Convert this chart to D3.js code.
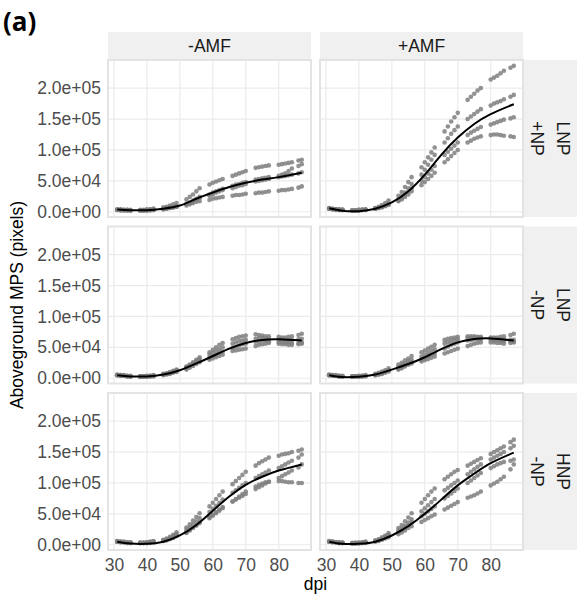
<!DOCTYPE html>
<html>
<head>
<meta charset="utf-8">
<script src="https://cdn.jsdelivr.net/npm/d3@7"></script>
<style>
  body { margin: 0; background: #fff; }
  svg { display: block; font-family: "Liberation Sans", Arial, sans-serif; }
</style>
</head>
<body>
<div id="chart"></div>
<script>
// --- Data (values in thousands of pixels) ---
const days = [31,32,33,34,35, 38,39,40,41,42, 45,46,47,48,49, 52,53,54,55,56,
              59,60,61,62,63, 66,67,68,69,70, 73,74,75,76,77, 80,81,82,83,84, 86,87];

const colLabels = ["-AMF", "+AMF"];
const rowLabels = [["LNP", "+NP"], ["LNP", "-NP"], ["HNP", "-NP"]];
const xTicks = [30, 40, 50, 60, 70, 80];
const yTicks = [0, 50000, 100000, 150000, 200000];

// one array per plant (4 replicates per panel)
const lnpPlusNpNoAmf = [
  [4,4,3,3,3, 3,3,4,4,5, 7,8,10,12,14, 20,24,28,33,38, 44,47,49,51,53, 58,60,62,64,66, 71,72,73,74,75, 76,77,78,79,80, 83,84],
  [3,3,3,3,2, 2,2,3,3,3, 5,6,7,8,9, 13,15,18,21,24, 28,31,33,35,37, 42,44,45,47,48, 52,53,54,55,56, 58,60,62,66,70, 74,77],
  [3,3,2,2,2, 2,2,2,3,3, 4,5,6,7,8, 12,14,16,19,22, 26,28,31,33,35, 38,40,42,43,45, 49,50,51,52,53, 56,57,58,59,60, 62,64],
  [3,2,2,2,2, 2,2,2,2,3, 4,5,6,7,8, 10,12,14,16,17, 19,21,22,23,24, 26,27,27,28,29, 30,31,31,32,33, 34,35,35,36,37, 39,41]
];
const lnpPlusNpAmf = [
  [6,5,4,4,3, 2,2,3,3,4, 6,8,11,14,18, 26,32,40,48,56, 72,80,88,96,104, 130,138,146,153,160, 181,186,191,196,200, 214,217,220,224,228, 233,236],
  [5,4,4,3,3, 2,2,2,3,3, 5,6,8,10,13, 20,25,31,38,45, 60,68,76,84,92, 112,119,126,132,138, 150,154,158,162,166, 172,175,177,179,182, 186,189],
  [5,4,3,3,3, 2,2,2,3,3, 5,6,8,10,12, 18,22,27,32,38, 50,56,62,68,74, 92,97,102,107,112, 124,128,131,134,137, 141,143,145,147,149, 151,153],
  [5,4,4,3,3, 2,2,3,3,3, 5,6,7,9,11, 17,20,24,28,33, 43,48,53,58,63, 80,85,90,95,100, 112,115,118,120,122, 124,125,125,124,123, 122,121]
];
const lnpMinusNpNoAmf = [
  [6,5,5,4,4, 3,3,4,4,5, 7,8,10,12,14, 19,22,26,30,34, 42,46,50,54,57, 63,65,67,68,69, 71,70,69,68,68, 67,66,66,67,68, 70,72],
  [5,5,4,4,3, 3,3,3,4,4, 6,7,9,11,13, 18,21,24,28,31, 38,41,44,47,50, 56,58,60,61,62, 64,65,65,64,64, 63,63,62,62,62, 63,64],
  [5,4,4,3,3, 3,3,3,3,4, 6,7,8,10,12, 16,19,22,25,28, 33,36,38,41,43, 49,51,53,55,56, 59,60,61,61,60, 59,59,58,58,57, 57,58],
  [5,4,4,3,3, 2,3,3,3,3, 5,6,7,9,10, 14,17,20,23,26, 30,32,34,36,38, 44,45,46,47,48, 52,54,55,56,57, 56,55,55,54,54, 55,56]
];
const lnpMinusNpAmf = [
  [6,5,5,4,4, 3,3,4,4,5, 7,9,11,13,16, 22,25,29,32,36, 42,45,48,51,54, 62,64,65,66,67, 68,68,68,67,67, 66,66,66,67,68, 70,72],
  [5,5,4,4,3, 3,3,3,4,4, 6,7,9,11,13, 18,21,24,27,30, 35,38,41,44,47, 56,58,60,62,63, 65,66,66,66,65, 65,64,64,63,63, 62,62],
  [5,4,4,3,3, 3,3,3,3,4, 5,6,8,10,12, 15,18,21,24,26, 30,32,35,38,40, 48,51,54,56,58, 61,62,63,63,63, 62,61,61,60,60, 60,59],
  [5,4,4,3,3, 2,3,3,3,3, 5,6,7,9,11, 14,16,19,22,24, 27,29,31,33,35, 40,42,44,46,48, 52,54,56,57,58, 58,58,57,57,56, 57,58]
];
const hnpMinusNpNoAmf = [
  [6,5,5,4,4, 3,3,4,5,6, 8,10,13,16,20, 28,33,39,45,51, 62,68,74,80,86, 98,103,108,113,118, 128,132,135,138,141, 144,146,147,148,150, 152,154],
  [5,5,4,4,3, 3,3,3,4,5, 7,9,11,14,17, 24,28,33,38,43, 53,58,63,68,73, 84,88,92,96,100, 108,111,114,117,120, 124,127,130,133,136, 141,146],
  [5,4,4,3,3, 3,3,3,4,4, 6,8,10,12,15, 20,24,28,32,37, 45,49,53,57,61, 70,73,76,79,82, 90,93,96,99,102, 108,111,114,117,120, 125,130],
  [5,4,4,3,3, 3,3,3,3,4, 6,7,9,11,14, 19,23,27,31,35, 43,47,51,55,59, 70,74,78,82,86, 94,97,99,101,102, 103,103,102,101,101, 100,100]
];
const hnpMinusNpAmf = [
  [6,5,4,4,3, 3,3,3,4,5, 7,9,12,15,19, 27,32,38,44,51, 68,74,80,86,91, 106,110,114,118,121, 128,131,134,137,140, 147,150,153,156,159, 166,170],
  [5,5,4,3,3, 2,3,3,3,4, 6,8,10,13,16, 23,27,31,36,41, 54,59,64,69,74, 88,92,96,100,104, 114,118,122,126,130, 138,141,144,147,150, 156,160],
  [5,4,4,3,3, 2,2,3,3,4, 6,7,9,12,15, 21,24,28,32,36, 46,50,54,58,62, 75,79,83,87,91, 100,104,108,112,116, 124,127,130,132,134, 136,138],
  [5,4,4,3,3, 2,2,2,3,3, 5,6,8,10,12, 17,20,23,27,30, 37,40,43,46,49, 57,60,63,66,69, 76,78,80,83,86, 96,99,102,106,110, 122,130]
];

// smoothed fit
const fitDays = [31, 35, 40, 45, 50, 55, 60, 65, 70, 75, 80, 87];
const fitLnpPlusNpNoAmf  = [3.5, 2.5, 2.5, 5, 10, 21, 31, 40, 47, 52, 56, 63];
const fitLnpPlusNpAmf    = [5.5, 1.5, 1, 5, 15, 33, 60, 92, 120, 142, 158, 174];
const fitLnpMinusNpNoAmf = [5, 3, 3, 6, 13, 24, 36, 48, 57, 62, 63, 61];
const fitLnpMinusNpAmf   = [5, 2, 2.5, 6, 14, 23, 34, 47, 58, 63.5, 64.5, 61];
const fitHnpMinusNpNoAmf = [5, 2, 1.5, 5, 15, 32, 55, 78, 97, 110, 120, 130];
const fitHnpMinusNpAmf   = [5, 1.5, 1.5, 5, 15, 30, 50, 73, 96, 115, 132, 149];

// panel grid: rows x columns
const panels = [
  [{ reps: lnpPlusNpNoAmf, fit: fitLnpPlusNpNoAmf }, { reps: lnpPlusNpAmf, fit: fitLnpPlusNpAmf }],
  [{ reps: lnpMinusNpNoAmf, fit: fitLnpMinusNpNoAmf }, { reps: lnpMinusNpAmf, fit: fitLnpMinusNpAmf }],
  [{ reps: hnpMinusNpNoAmf, fit: fitHnpMinusNpNoAmf }, { reps: hnpMinusNpAmf, fit: fitHnpMinusNpAmf }]
];

// --- Layout ---
const W = 577, H = 594;
const colX = [108, 320];
const rowY = [60, 226.5, 393];
const panelW = 203, panelH = 157;
const stripTop = 32, stripH = 28;
const rStripX = 523, rStripW = 54;

const svg = d3.select("#chart").append("svg")
  .attr("width", W).attr("height", H);

const x = d3.scaleLinear().domain([28.2, 89.8]).range([0, panelW]);
const y = d3.scaleLinear().domain([-8500, 245500]).range([panelH, 0]);

const fmtY = v => v.toExponential(1).replace(/e([+-])(\d)$/, "e$10$2");

const line = d3.line()
  .x(d => x(d[0]))
  .y(d => y(d[1] * 1000))
  .curve(d3.curveNatural);

// "(a)" tag
svg.append("text")
  .attr("x", 3).attr("y", 31)
  .style("font-family", "'Open Sans', sans-serif")
  .style("font-weight", "bold")
  .style("font-size", "26px")
  .text("(a)");

// top strips
colLabels.forEach((lab, c) => {
  svg.append("rect")
    .attr("x", colX[c]).attr("y", stripTop)
    .attr("width", panelW).attr("height", stripH)
    .attr("fill", "#f0f0f0");
  svg.append("text")
    .attr("x", colX[c] + panelW / 2).attr("y", stripTop + stripH / 2)
    .attr("text-anchor", "middle").attr("dominant-baseline", "central")
    .attr("fill", "#1a1a1a").style("font-size", "17.5px")
    .text(lab);
});

// right strips (text runs top to bottom)
rowLabels.forEach((lab, r) => {
  svg.append("rect")
    .attr("x", rStripX).attr("y", rowY[r])
    .attr("width", rStripW).attr("height", panelH)
    .attr("fill", "#f0f0f0");
  const cy = rowY[r] + panelH / 2;
  lab.forEach((t, i) => {
    const cx = rStripX + rStripW / 2 + (i === 0 ? 13 : -13);
    svg.append("text")
      .attr("transform", `translate(${cx},${cy}) rotate(90)`)
      .attr("text-anchor", "middle").attr("dominant-baseline", "central")
      .attr("fill", "#1a1a1a").style("font-size", "17.5px")
      .text(t);
  });
});

// panels
panels.forEach((row, r) => {
  row.forEach((p, c) => {
    const g = svg.append("g").attr("transform", `translate(${colX[c]},${rowY[r]})`);

    g.append("rect").attr("width", panelW).attr("height", panelH).attr("fill", "#fff");

    g.selectAll(".hgrid").data(yTicks).join("line")
      .attr("x1", 0).attr("x2", panelW)
      .attr("y1", d => y(d)).attr("y2", d => y(d))
      .attr("stroke", "#ebebeb").attr("stroke-width", 1.2);
    g.selectAll(".vgrid").data(xTicks).join("line")
      .attr("y1", 0).attr("y2", panelH)
      .attr("x1", d => x(d)).attr("x2", d => x(d))
      .attr("stroke", "#ebebeb").attr("stroke-width", 1.2);

    p.reps.forEach(rep => {
      g.append("g").selectAll("circle")
        .data(rep.map((v, i) => [days[i], v]))
        .join("circle")
        .attr("cx", d => x(d[0]))
        .attr("cy", d => y(d[1] * 1000))
        .attr("r", 2.3)
        .attr("fill", "#7f7f7f")
        .attr("fill-opacity", 0.85);
    });

    g.append("path")
      .datum(fitDays.map((d, i) => [d, p.fit[i]]))
      .attr("d", line)
      .attr("fill", "none")
      .attr("stroke", "#000")
      .attr("stroke-width", 2);

    g.append("rect").attr("width", panelW).attr("height", panelH)
      .attr("fill", "none").attr("stroke", "#e3e3e3").attr("stroke-width", 2);

    // y tick labels on the left column
    if (c === 0) {
      const ax = g.append("g")
        .call(d3.axisLeft(y).tickValues(yTicks).tickFormat(fmtY).tickSize(0).tickPadding(7));
      ax.select(".domain").remove();
      ax.selectAll("text").attr("fill", "#4d4d4d").style("font-size", "17.5px")
        .style("font-family", "'Liberation Sans', Arial, sans-serif");
    }
    // x tick labels on the bottom row
    if (r === panels.length - 1) {
      const ax = g.append("g").attr("transform", `translate(0,${panelH})`)
        .call(d3.axisBottom(x).tickValues(xTicks).tickSize(0).tickPadding(9));
      ax.select(".domain").remove();
      ax.selectAll("text").attr("fill", "#4d4d4d").style("font-size", "17.5px")
        .style("font-family", "'Liberation Sans', Arial, sans-serif");
    }
  });
});

// axis titles
svg.append("text")
  .attr("transform", `translate(23,${(rowY[0] + rowY[2] + panelH) / 2}) rotate(-90)`)
  .attr("text-anchor", "middle")
  .style("font-size", "17.5px")
  .text("Aboveground MPS (pixels)");

svg.append("text")
  .attr("x", (colX[0] + colX[1] + panelW) / 2).attr("y", 590)
  .attr("text-anchor", "middle")
  .style("font-size", "17.5px")
  .text("dpi");
</script>
</body>
</html>
